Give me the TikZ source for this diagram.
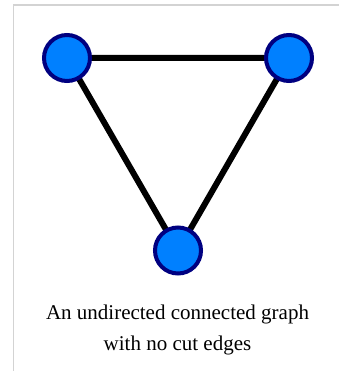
\documentclass[tikz,border=0pt]{standalone}
\usepackage{fontspec}
\setmainfont{Liberation Serif}
\definecolor{vfill}{HTML}{0080FF}
\definecolor{vline}{HTML}{000080}
\definecolor{frame}{HTML}{D3D3D3}
\begin{document}
\begin{tikzpicture}[x=1pt,y=-1pt,
  vertex/.style={circle,fill=vfill,draw=vline,line width=4pt,minimum size=46pt,inner sep=0pt},
  edge/.style={line width=6pt,black},
  caption/.style={font=\fontsize{21}{32}\selectfont,anchor=base,inner sep=0pt}]
\useasboundingbox (0,0) rectangle (339,371);
\draw[frame,line width=1.2pt] (13.5,371) -- (13.5,5) -- (339,5);
\coordinate (c1) at (67,58);
\coordinate (c2) at (289,58);
\coordinate (c3) at (178,250.5);
\draw[edge] (c1) -- (c2) -- (c3) -- cycle;
\node[vertex] (v1) at (c1) {};
\node[vertex] (v2) at (c2) {};
\node[vertex] (v3) at (c3) {};
\node[caption] (t1) at (177.5,319.5) {An undirected connected graph};
\node[caption] (t2) at (177.5,350.5) {with no cut edges};
\end{tikzpicture}
\end{document}
